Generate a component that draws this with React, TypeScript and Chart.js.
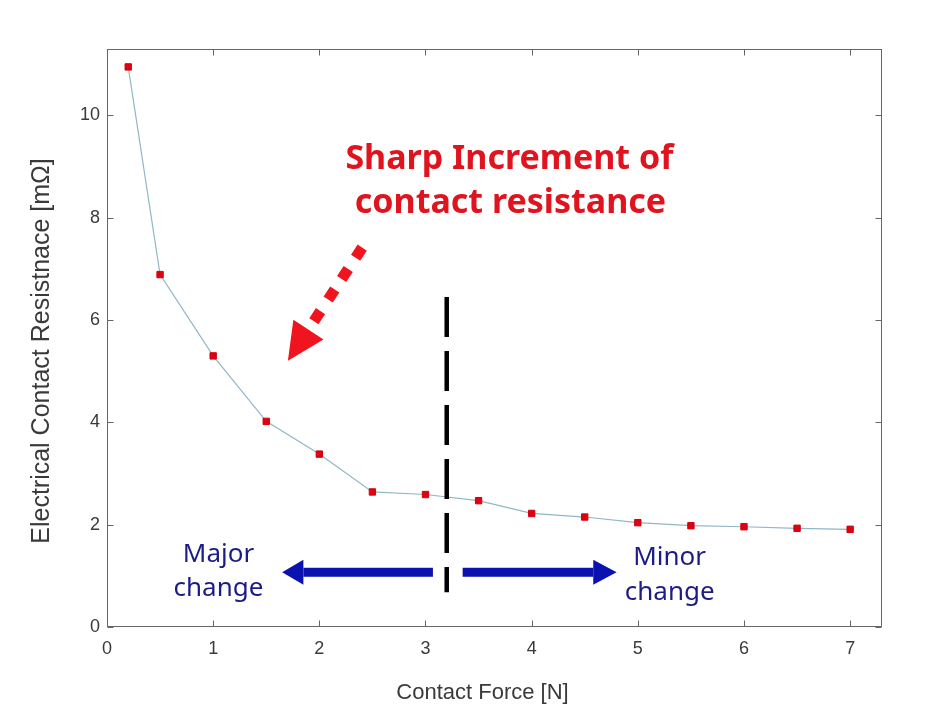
import React, { useEffect, useRef } from "react";
import { Chart, registerables } from "chart.js";

Chart.register(...registerables);

const forceN = [0.2, 0.5, 1, 1.5, 2, 2.5, 3, 3.5, 4, 4.5, 5, 5.5, 6, 6.5, 7];
const resistance = [10.95, 6.89, 5.3, 4.02, 3.38, 2.64, 2.59, 2.47, 2.22, 2.15, 2.04, 1.98, 1.96, 1.93, 1.91];
const xTicks = [0, 1, 2, 3, 4, 5, 6, 7];
const yTicks = [0, 2, 4, 6, 8, 10];
const xTitle = "Contact Force [N]";
const yTitle = "Electrical Contact Resistnace [mΩ]";
const titleLines = ["Sharp Increment of", "contact resistance"];
const leftLabel = ["Major", "change"];
const rightLabel = ["Minor", "change"];

const annotationPlugin = {
  id: "annotations",
  afterDatasetsDraw(chart: any) {
    const { ctx, chartArea, scales } = chart;
    const xs = scales.x;
    const ys = scales.y;
    const X = (v: number) => xs.getPixelForValue(v);
    const Y = (v: number) => ys.getPixelForValue(v);
    ctx.save();

    // frame
    ctx.strokeStyle = "#666";
    ctx.lineWidth = 1;
    const l = Math.round(chartArea.left) + 0.5;
    const r = Math.round(chartArea.right) - 0.5;
    const t = Math.round(chartArea.top) + 0.5;
    const b = Math.round(chartArea.bottom) - 0.5;
    ctx.strokeRect(l, t, r - l, b - t);
    const tl = 6;
    ctx.beginPath();
    xTicks.forEach((v) => {
      const px = Math.round(X(v)) + 0.5;
      ctx.moveTo(px, b);
      ctx.lineTo(px, b - tl);
      ctx.moveTo(px, t);
      ctx.lineTo(px, t + tl);
    });
    yTicks.forEach((v) => {
      const py = Math.round(Y(v)) + 0.5;
      ctx.moveTo(l, py);
      ctx.lineTo(l + tl, py);
      ctx.moveTo(r, py);
      ctx.lineTo(r - tl, py);
    });
    ctx.stroke();

    // axis titles
    ctx.fillStyle = "#3a3a3a";
    ctx.textAlign = "center";
    ctx.textBaseline = "middle";
    ctx.font = "22px 'Liberation Sans', Arial, sans-serif";
    ctx.fillText(xTitle, (chartArea.left + chartArea.right) / 2 - 12, chartArea.bottom + 66);
    ctx.save();
    ctx.translate(42, (chartArea.top + chartArea.bottom) / 2 + 13);
    ctx.rotate(-Math.PI / 2);
    ctx.font = "25px 'Liberation Sans', Arial, sans-serif";
    ctx.fillText(yTitle, 0, 0);
    ctx.restore();

    // dashed vertical divider
    ctx.strokeStyle = "#000";
    ctx.lineWidth = 4.5;
    ctx.setLineDash([40, 14]);
    ctx.beginPath();
    ctx.moveTo(X(3.2), Y(6.45));
    ctx.lineTo(X(3.2), Y(0.68));
    ctx.stroke();
    ctx.setLineDash([]);

    // blue arrows
    const blue = "#0b12b0";
    const arrow = (x0: number, xBase: number, xTip: number, yv: number) => {
      const py = Y(yv);
      ctx.fillStyle = blue;
      const a = X(x0), bb = X(xBase), tp = X(xTip);
      ctx.fillRect(Math.min(a, bb), py - 4.5, Math.abs(bb - a), 9);
      ctx.beginPath();
      ctx.moveTo(tp, py);
      ctx.lineTo(bb, py - 12.5);
      ctx.lineTo(bb, py + 12.5);
      ctx.closePath();
      ctx.fill();
    };
    arrow(3.07, 1.85, 1.65, 1.07);
    arrow(3.35, 4.58, 4.8, 1.07);

    // blue labels
    ctx.fillStyle = "#1c1c86";
    ctx.font = "26px 'Noto Sans', sans-serif";
    ctx.textAlign = "center";
    ctx.textBaseline = "middle";
    ctx.fillText(leftLabel[0], X(1.05), Y(1.42));
    ctx.fillText(leftLabel[1], X(1.05), Y(0.76));
    ctx.fillText(rightLabel[0], X(5.3), Y(1.36));
    ctx.fillText(rightLabel[1], X(5.3), Y(0.67));

    // red title
    ctx.fillStyle = "#e0141e";
    ctx.font = "bold 34px 'Noto Sans', sans-serif";
    ctx.fillText(titleLines[0], X(3.79), Y(9.14));
    ctx.fillText(titleLines[1], X(3.8), Y(8.28));

    // red dotted arrow
    const sx = X(2.373), sy = Y(7.319);
    const tx = X(1.704), ty = Y(5.205);
    const dx = tx - sx, dy = ty - sy;
    const len = Math.hypot(dx, dy);
    const ux = dx / len, uy = dy / len;
    const ang = Math.atan2(uy, ux);
    ctx.fillStyle = "#f0141e";
    [0, 25.5, 50, 76].forEach((d) => {
      ctx.save();
      ctx.translate(sx + ux * d, sy + uy * d);
      ctx.rotate(ang);
      ctx.fillRect(-6, -5.5, 12, 11);
      ctx.restore();
    });
    const bx = sx + ux * 92, by = sy + uy * 92;
    const px = -uy, py = ux;
    ctx.beginPath();
    ctx.moveTo(tx, ty);
    ctx.lineTo(bx + px * 18, by + py * 18);
    ctx.lineTo(bx - px * 18, by - py * 18);
    ctx.closePath();
    ctx.fill();

    ctx.restore();
  },
};

export default function App() {
  const ref = useRef<HTMLCanvasElement>(null);
  useEffect(() => {
    document.body.style.margin = "0";
    const canvas = ref.current!;
    const chart = new Chart(canvas, {
      type: "line",
      data: {
        datasets: [
          {
            data: forceN.map((x, i) => ({ x, y: resistance[i] })),
            borderColor: "#8fb8c6",
            borderWidth: 1.2,
            pointStyle: "rect",
            pointRadius: 4.5,
            pointBackgroundColor: "#e00010",
            pointBorderColor: "#d00010",
            pointBorderWidth: 1,
            tension: 0,
          },
        ],
      },
      options: {
        animation: false,
        responsive: false,
        events: [],
        layout: { padding: { top: 49, right: 51, left: 0, bottom: 0 } },
        plugins: { legend: { display: false }, tooltip: { enabled: false } },
        scales: {
          x: {
            type: "linear",
            min: 0,
            max: 7.3,
            afterFit: (s: any) => {
              s.height = 93;
            },
            grid: { display: false, drawTicks: false },
            border: { display: false },
            ticks: {
              stepSize: 1,
              includeBounds: false,
              padding: 11,
              color: "#3a3a3a",
              font: { family: "'Liberation Sans', Arial, sans-serif", size: 18 },
              maxRotation: 0,
            },
          },
          y: {
            type: "linear",
            min: 0,
            max: 11.3,
            afterFit: (s: any) => {
              s.width = 107;
            },
            grid: { display: false, drawTicks: false },
            border: { display: false },
            ticks: {
              stepSize: 2,
              includeBounds: false,
              padding: 7,
              color: "#3a3a3a",
              font: { family: "'Liberation Sans', Arial, sans-serif", size: 18 },
            },
          },
        },
      },
      plugins: [annotationPlugin],
    } as any);
    return () => chart.destroy();
  }, []);
  return (
    <div style={{ width: 933, height: 720, background: "#fff" }}>
      <canvas ref={ref} width={933} height={720} style={{ display: "block" }} />
    </div>
  );
}
